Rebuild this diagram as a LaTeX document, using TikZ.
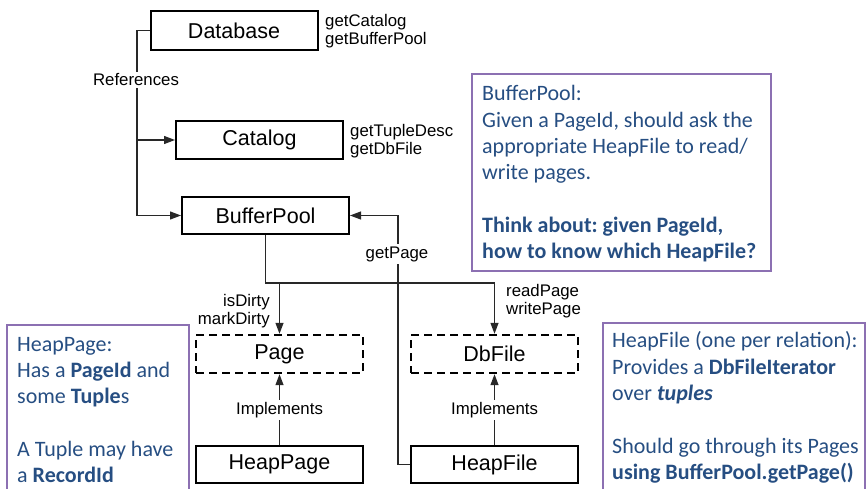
\documentclass[tikz,border=0pt]{standalone}
\usepackage{fontspec}
\setmainfont{Liberation Sans}
\newfontfamily\notefont{Carlito}
\usetikzlibrary{arrows.meta}
\definecolor{notetext}{RGB}{38,78,130}
\definecolor{noteframe}{RGB}{140,112,178}
\definecolor{wirecol}{RGB}{40,40,40}
\frenchspacing

\begin{document}
\begin{tikzpicture}[x=1pt,y=-1pt,
  classbox/.style={draw=black, line width=2pt, minimum width=167pt, minimum height=38pt,
    inner sep=0pt, font=\fontsize{21.5}{24}\selectfont},
  ifacebox/.style={classbox, dash pattern=on 8pt off 5pt, line width=2.4pt},
  wire/.style={draw=wirecol, line width=1.2pt},
  arrowwire/.style={wire, -{Triangle[length=11pt,width=8pt]}},
  tag/.style={inner sep=1pt, font=\fontsize{16.8}{18.5}\selectfont},
  cut/.style={tag, fill=white, inner sep=2pt},
  notebox/.style={draw=noteframe, line width=2pt},
  notetxt/.style={anchor=base west, inner sep=0pt, align=left, text=notetext,
    font=\notefont\fontsize{22}{26.3}\selectfont},
]
\useasboundingbox (0,0) rectangle (867,489);

% classes and interfaces
\node[classbox, minimum height=39pt] (db) at (234,30.5) {Database};
\node[classbox] (cat) at (259.5,140) {Catalog};
\node[classbox, minimum height=37pt] (bp) at (265.5,215.5) {BufferPool};
\node[ifacebox] (page) at (279.5,354) {Page};
\node[ifacebox] (dbf) at (494.5,354) {DbFile};
\node[classbox, minimum height=37pt] (hp) at (279.5,464.5) {HeapPage};
\node[classbox, minimum height=37pt] (hf) at (494.5,464.5) {HeapFile};

% method lists
\node[tag, anchor=west, align=left] (dbm) at (324,31) {getCatalog\\getBufferPool};
\node[tag, anchor=west, align=left] (catm) at (349,141) {getTupleDesc\\getDbFile};
\node[tag, anchor=east, align=right] (pgm) at (271,311) {isDirty\\markDirty};
\node[tag, anchor=west, align=left] (dfm) at (505,301) {readPage\\writePage};

% references from Database
\coordinate (trunk) at (137,30.5);
\coordinate (branch) at (137,140);
\draw[wire] (db.west) -- (trunk);
\draw[arrowwire] (trunk) |- (bp.west);
\draw[arrowwire] (branch) -- (cat.west);
\node[cut] (refs) at (136,80) {References};

% BufferPool uses Page and DbFile
\coordinate (split) at (265.5,283);
\draw[arrowwire] (bp.south) -- (split) -| (dbf.north);
\draw[arrowwire] (split -| page.north) -- (page.north);

% HeapFile calls back into BufferPool
\coordinate (gp) at (398,215.5);
\draw[arrowwire] (hf.west) -| (gp) -- (bp.east);
\node[cut] (gpl) at (397,254) {getPage};

% implementations
\draw[arrowwire] (hp.north) -- (page.south);
\node[cut] (impl1) at (279.5,410) {Implements};
\draw[arrowwire] (hf.north) -- (dbf.south);
\node[cut] (impl2) at (494.5,410) {Implements};

% notes (each text node is placed by the baseline of its last line)
\draw[notebox] (472,74) rectangle (771,271);
\node[notetxt] (n1) at (482,258.5) {BufferPool:\\Given a PageId, should ask the\\appropriate HeapFile to read/\\write pages.\\[26.3pt]\textbf{Think about: given PageId,}\\\textbf{how to know which HeapFile?}};

\draw[notebox] (7,495) |- (189,325) -- (189,495);
\node[notetxt] (n2) at (17,482.5) {HeapPage:\\Has a \textbf{PageId} and\\some \textbf{Tuple}s\\[26.3pt]A Tuple may have\\a \textbf{RecordId}};

\draw[notebox] (603,495) |- (865,323) -- (865,495);
\node[notetxt] (n3) at (612,479.3) {HeapFile (one per relation):\\Provides a \textbf{DbFileIterator}\\over \textbf{\textit{tuples}}\\[26.3pt]Should go through its Pages\\\textbf{using BufferPool.getPage()}};
\end{tikzpicture}
\end{document}
